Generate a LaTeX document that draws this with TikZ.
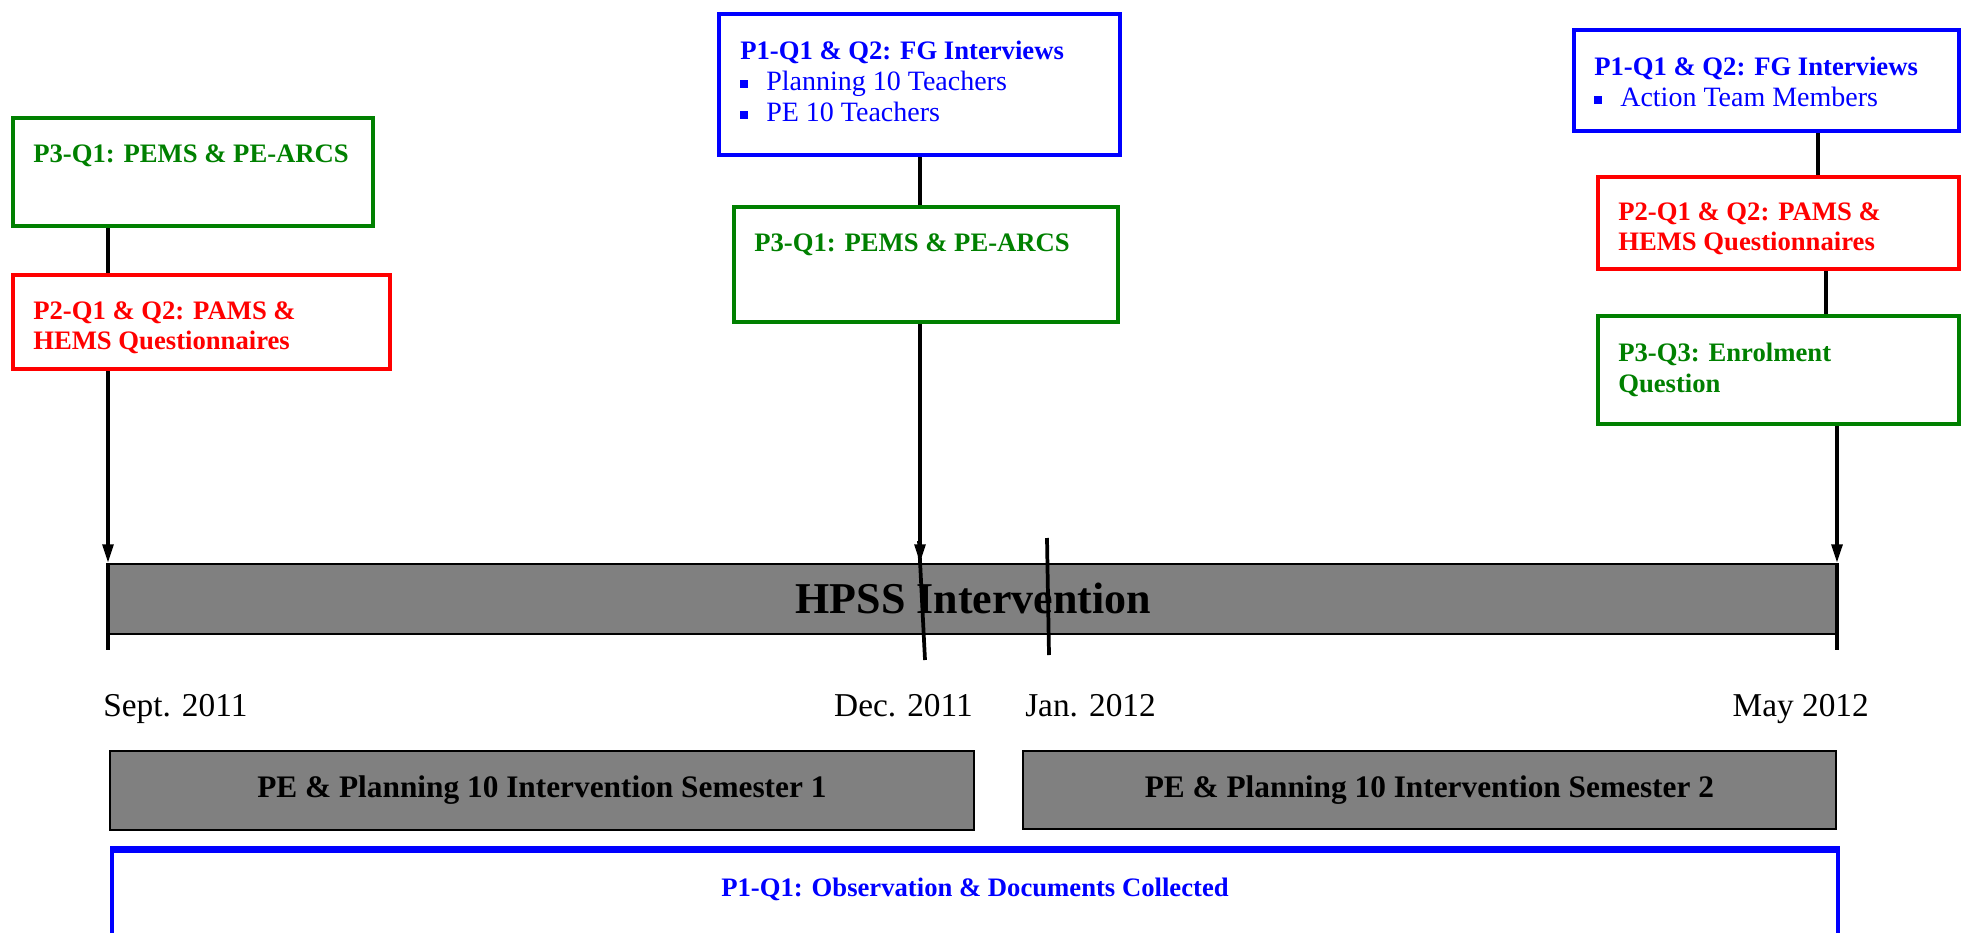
\documentclass[tikz,border=0pt]{standalone}
\usepackage{fontspec}
\setmainfont{Liberation Serif}
\usetikzlibrary{arrows.meta, positioning}
\definecolor{pblue}{HTML}{0000FF}
\definecolor{pred}{HTML}{FF0000}
\definecolor{pgreen}{HTML}{008000}
\definecolor{pgrey}{HTML}{808080}
\newcommand{\sqbul}{\makebox[19.5pt][l]{\rule[1.5pt]{6pt}{6pt}}}
\newcommand{\plaintxt}{\fontsize{21}{23}\selectfont\mdseries}
\tikzset{
  qbox/.style={draw=#1, line width=3pt, anchor=north west, inner sep=0pt},
  intext/.style={anchor=north west, inner sep=0pt, align=left, font=\fontsize{20}{23}\selectfont\bfseries},
  bar/.style={draw=black, fill=pgrey, line width=1.3pt, anchor=north west, inner sep=0pt},
  link/.style={draw=black, line width=2.8pt},
  arrow/.style={-{Triangle[length=14pt, width=8pt]}, draw=black, line width=2.8pt},
  date/.style={font=\fontsize{25}{30}\selectfont, inner sep=0pt},
}

\begin{document}
\begin{tikzpicture}[x=0.75pt, y=-0.75pt]
  \useasboundingbox (0,0) rectangle (1963,932);
  \clip (0,0) rectangle (1963,932);
  \coordinate (sep) at (108,563);
  \coordinate (dec) at (920,563);
  \coordinate (jan) at (1048,563);
  \coordinate (may) at (1837,563);
  \coordinate (ra) at (1818,0);
  \coordinate (rb) at (1826,0);

  \node[bar, minimum width=1296.75pt, minimum height=52.5pt, font=\fontsize{33}{40}\selectfont\bfseries] (tl) at (sep) {HPSS Intervention};

  \node[qbox=pgreen, minimum width=270pt, minimum height=81pt] (q3a) at (11,116) {};
  \node[intext, text=pgreen] (t3a) at ([shift={(22,28)}]q3a.north west) {P3-Q1: PEMS \& PE-ARCS};
  \node[qbox=pred, minimum width=282.75pt, minimum height=70.5pt] (q2a) at (11,273) {};
  \node[intext, text=pred] (t2a) at ([shift={(22,28)}]q2a.north west) {P2-Q1 \& Q2: PAMS \&\\HEMS Questionnaires};

  \node[qbox=pblue, minimum width=300.75pt, minimum height=105.75pt] (q1b) at (717,12) {};
  \node[intext, text=pblue] (t1b) at ([shift={(23,29)}]q1b.north west) {P1-Q1 \& Q2: FG Interviews\\ \sqbul\plaintxt Planning 10 Teachers\\ \sqbul\plaintxt PE 10 Teachers};
  \node[qbox=pgreen, minimum width=288pt, minimum height=86.25pt] (q3b) at (732,205) {};
  \node[intext, text=pgreen] (t3b) at ([shift={(22,28)}]q3b.north west) {P3-Q1: PEMS \& PE-ARCS};

  \node[qbox=pblue, minimum width=288.75pt, minimum height=75.75pt] (q1c) at (1572,28) {};
  \node[intext, text=pblue] (t1c) at ([shift={(22,29)}]q1c.north west) {P1-Q1 \& Q2: FG Interviews\\ \sqbul\plaintxt Action Team Members};
  \node[qbox=pred, minimum width=270.75pt, minimum height=69pt] (q2c) at (1596,175) {};
  \node[intext, text=pred] (t2c) at ([shift={(22,27)}]q2c.north west) {P2-Q1 \& Q2: PAMS \&\\HEMS Questionnaires};
  \node[qbox=pgreen, minimum width=270.75pt, minimum height=81pt] (q3c) at (1596,314) {};
  \node[intext, text=pgreen] (t3c) at ([shift={(22,29)}]q3c.north west) {P3-Q3: Enrolment\\Question};

  \node[date, anchor=base west] (dsep) at (103,716) {Sept. 2011};
  \node[date, anchor=base east] (ddec) at (973,716) {Dec. 2011};
  \node[date, anchor=base west] (djan) at (1025,716) {Jan. 2012};
  \node[date, anchor=base east] (dmay) at (1869,716) {May 2012};

  \node[bar, minimum width=648pt, minimum height=59.25pt, font=\fontsize{23.5}{28}\selectfont\bfseries] (sem1) at (109,750) {PE \& Planning 10 Intervention Semester 1};
  \node[bar, minimum width=609.75pt, minimum height=58.5pt, font=\fontsize{23.5}{28}\selectfont\bfseries] (sem2) at (1022,750) {PE \& Planning 10 Intervention Semester 2};

  \node[qbox=pblue, minimum width=1294.5pt, minimum height=112.5pt] (obs) at (110,849) {};
  \draw[pblue, line width=4.5pt] (obs.north west) -- (obs.north east);
  \node[intext, anchor=base, text=pblue] (tobs) at ([shift={(0,47)}]obs.north) {P1-Q1: Observation \& Documents Collected};

  \draw[link] (q3a.south -| sep) -- (q2a.north -| sep);
  \draw[arrow] (q2a.south -| sep) -- (sep);
  \draw[link] (q1b.south -| dec) -- (q3b.north -| dec);
  \draw[arrow] (q3b.south -| dec) -- (dec);
  \draw[link] (q1c.south -| ra) -- (q2c.north -| ra);
  \draw[link] (q2c.south -| rb) -- (q3c.north -| rb);
  \draw[arrow] (q3c.south -| may) -- (may);

  \draw[link] (sep) -- ++(0,87);
  \draw[link] ([shift={(-1,-22)}]dec) -- ([shift={(5,97)}]dec);
  \draw[link] ([shift={(-1,-25)}]jan) -- ([shift={(1,92)}]jan);
  \draw[link] (may) -- ++(0,87);
\end{tikzpicture}
\end{document}
